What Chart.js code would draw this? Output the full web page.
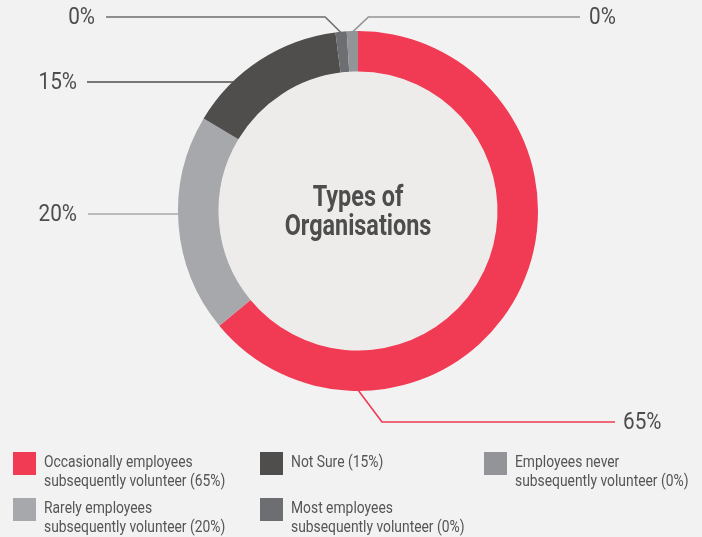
<!DOCTYPE html>
<html>
<head>
<meta charset="utf-8">
<script src="https://cdn.jsdelivr.net/npm/chart.js@4"></script>
<style>
  html, body { margin: 0; padding: 0; background: #f2f2f2; }
  #wrap { position: relative; width: 702px; height: 537px; overflow: hidden; }
  #chart { position: absolute; left: 0; top: 0; }
  .item { position: absolute; display: flex; align-items: flex-start;
          font-family: "Roboto", sans-serif; font-size: 17px;
          line-height: 19px; color: #555; white-space: nowrap; }
  .box { width: 23px; height: 23px; margin-right: 8px; flex: none; }
  .txt { transform: scaleX(0.815); transform-origin: left top; }
</style>
</head>
<body>
<div id="wrap">
  <canvas id="chart" width="702" height="537"></canvas>
</div>
<script>
const categories = [
  'Occasionally employees\nsubsequently volunteer (65%)',
  'Rarely employees\nsubsequently volunteer (20%)',
  'Not Sure (15%)',
  'Most employees\nsubsequently volunteer (0%)',
  'Employees never\nsubsequently volunteer (0%)'
];
const values = [64, 19.6, 14.4, 1, 1];
const valueLabels = ['65%', '20%', '15%', '0%', '0%'];
const colors = ['#f13a53', '#a7a8ab', '#4f4e4c', '#6d6e71', '#929497'];
const lineColors = ['#f13a53', '#a7a8ab', '#4f4e4c', '#6d6e71', '#929497'];
const title = ['Types of', 'Organisations'];

const font = '"Roboto", sans-serif';

// draw text narrowed horizontally (condensed look)
function narrowText(c, text, x, y, align, sx) {
  c.save();
  c.translate(x, y);
  c.scale(sx, 1);
  c.textAlign = align;
  c.fillText(text, 0, 0);
  c.restore();
}

// inner disc + centre title
const centrePlugin = {
  id: 'centre',
  beforeDatasetsDraw(chart) {
    const arc = chart.getDatasetMeta(0).data[0];
    const c = chart.ctx;
    c.save();
    c.fillStyle = '#edecea';
    c.beginPath();
    c.arc(arc.x, arc.y, arc.innerRadius, 0, Math.PI * 2);
    c.fill();
    c.restore();
  },
  afterDatasetsDraw(chart) {
    const arc = chart.getDatasetMeta(0).data[0];
    const c = chart.ctx;
    c.save();
    c.fillStyle = '#4d4d4d';
    c.font = 'bold 30px ' + font;
    c.textBaseline = 'alphabetic';
    narrowText(c, title[0], arc.x, arc.y - 5, 'center', 0.78);
    narrowText(c, title[1], arc.x, arc.y + 24, 'center', 0.78);
    c.restore();
  }
};

// leader lines with value labels
const calloutPlugin = {
  id: 'callouts',
  afterDraw(chart) {
    const arcs = chart.getDatasetMeta(0).data;
    const c = chart.ctx;
    const cx = arcs[0].x, cy = arcs[0].y, R = arcs[0].outerRadius;
    c.save();
    c.lineWidth = 1.6;
    c.font = '23px ' + font;
    c.fillStyle = '#4d4d4d';
    c.textBaseline = 'alphabetic';
    arcs.forEach((a, i) => {
      const mid = (a.startAngle + a.endAngle) / 2;
      let pts, tx, align;
      if (i === 0) {
        const ly = cy + R + 31;
        pts = [[cx, cy + R - 1], [cx + 24, ly], [615, ly]];
        tx = 623; align = 'left';
      } else if (i === 1) {
        const ly = cy + 3;
        pts = [[cx - R, ly], [88, ly]];
        tx = 77; align = 'right';
      } else if (i === 2) {
        const ly = cy - 129;
        pts = [[cx - Math.sqrt(R * R - 129 * 129) + 2, ly], [87, ly]];
        tx = 77; align = 'right';
      } else {
        const ax = cx + Math.cos(mid) * (R - 1), ay = cy + Math.sin(mid) * (R - 1);
        const ly = cy - R - 14;
        const left = i === 3;
        pts = [[ax, ay], [ax + (left ? -16 : 16), ly], [left ? 106 : 580, ly]];
        tx = left ? 95 : 589; align = left ? 'right' : 'left';
      }
      c.strokeStyle = lineColors[i];
      c.beginPath();
      pts.forEach((p, k) => k ? c.lineTo(p[0], p[1]) : c.moveTo(p[0], p[1]));
      c.stroke();
      narrowText(c, valueLabels[i], tx, pts[pts.length - 1][1] + 7, align, 0.9);
    });
    c.restore();
  }
};

new Chart(document.getElementById('chart'), {
  type: 'doughnut',
  data: {
    labels: categories,
    datasets: [{
      data: values,
      backgroundColor: colors,
      borderWidth: 0
    }]
  },
  options: {
    responsive: false,
    animation: false,
    cutout: '77.5%',
    layout: { padding: { top: 31, bottom: 146, left: 178, right: 164 } },
    plugins: {
      legend: { display: false },
      tooltip: { enabled: false }
    }
  },
  plugins: [centrePlugin, calloutPlugin]
});

// legend, laid out in columns of two rows
const wrap = document.getElementById('wrap');
const colX = [13, 260, 484];
const rowY = [452, 498];
categories.forEach((name, i) => {
  const el = document.createElement('div');
  el.className = 'item';
  el.style.left = colX[Math.floor(i / 2)] + 'px';
  el.style.top = rowY[i % 2] + 'px';
  const box = document.createElement('div');
  box.className = 'box';
  box.style.background = colors[i];
  const txt = document.createElement('div');
  txt.className = 'txt';
  txt.innerHTML = name.replace('\n', '<br>');
  el.appendChild(box);
  el.appendChild(txt);
  wrap.appendChild(el);
});
</script>
</body>
</html>
